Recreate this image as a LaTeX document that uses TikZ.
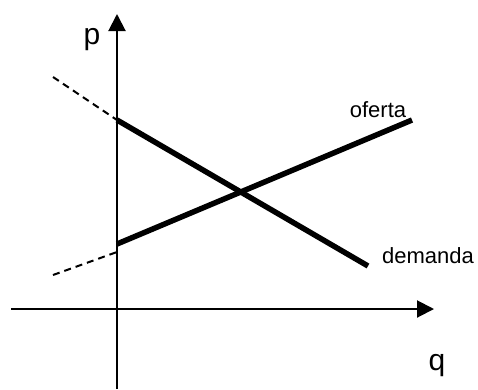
\documentclass[tikz,border=0pt]{standalone}
\usepackage{fontspec}
\setmainfont{Liberation Sans}
\usetikzlibrary{arrows.meta}
\begin{document}
\begin{tikzpicture}[x=1pt,y=-1pt,
  axis/.style={line width=2pt,-{Triangle[length=17pt,width=17pt]}},
  curve/.style={line width=5.5pt},
  ext/.style={line width=2pt,dash pattern=on 7pt off 5pt},
  lbl/.style={anchor=base,inner sep=0pt,font=\fontsize{22}{22}\selectfont},
  axlbl/.style={anchor=base,inner sep=0pt,font=\fontsize{30}{30}\selectfont}]
\useasboundingbox (0,0) rectangle (478,389);
% axes
\coordinate (ybot) at (117,389);
\coordinate (ytop) at (117,14);
\coordinate (xleft) at (11,309);
\coordinate (xright) at (434,309);
\draw[axis] (ybot) -- (ytop);
\draw[axis] (xleft) -- (xright);
% demand
\coordinate (d0) at (53,77);
\coordinate (d1) at (117,120);
\coordinate (d2) at (368,266);
\draw[ext] (d0) -- (d1);
\draw[curve] (d1) -- (d2);
% supply
\coordinate (s0) at (53,275);
\coordinate (s1) at (117,252);
\coordinate (s2) at (117,244);
\coordinate (s3) at (412,120);
\draw[ext] (s0) -- (s1);
\draw[curve] (s2) -- (s3);
% labels
\node[axlbl] (p) at (92,44) {p};
\node[axlbl] (q) at (437,370) {q};
\node[lbl] (of) at (378,117) {oferta};
\node[lbl] (dem) at (428,263) {demanda};
\end{tikzpicture}
\end{document}
